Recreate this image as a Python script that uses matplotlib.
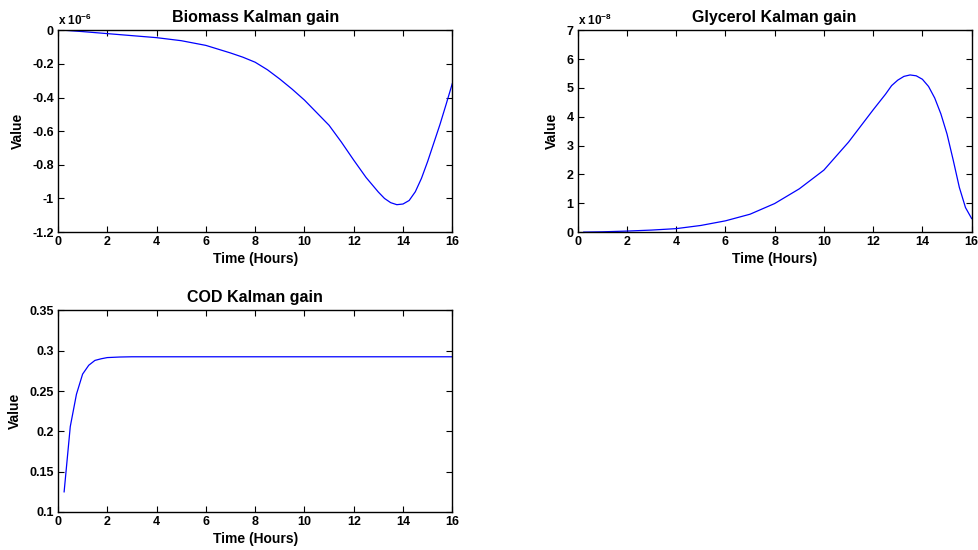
import matplotlib
matplotlib.use("Agg")
from matplotlib import pyplot as plt

plt.rcParams["font.family"] = ["Liberation Sans", "DejaVu Sans"]
plt.rcParams["font.weight"] = "bold"
plt.rcParams["axes.unicode_minus"] = False
plt.rcParams["mathtext.fontset"] = "custom"
plt.rcParams["mathtext.rm"] = "Liberation Sans:bold"
plt.rcParams["mathtext.bf"] = "Liberation Sans:bold"
plt.rcParams["mathtext.default"] = "bf"

# Biomass Kalman gain (units of 1e-6)
biomass_t = [0.25, 1, 2, 3, 4, 5, 6, 7, 7.5, 8, 8.5, 9, 9.5, 10, 10.5, 11,
             11.5, 12, 12.5, 13, 13.25, 13.5, 13.75, 14, 14.25, 14.5, 14.75,
             15, 15.25, 15.5, 15.75, 16]
biomass_k = [0, -0.008, -0.02, -0.032, -0.044, -0.062, -0.09, -0.135, -0.16,
             -0.19, -0.235, -0.29, -0.35, -0.415, -0.49, -0.565, -0.665,
             -0.772, -0.875, -0.962, -1.0, -1.025, -1.037, -1.033, -1.012,
             -0.96, -0.88, -0.78, -0.67, -0.56, -0.44, -0.317]

# Glycerol Kalman gain (units of 1e-8)
glycerol_t = [0.25, 1, 2, 3, 4, 5, 6, 7, 8, 9, 10, 11, 12, 12.5, 12.75, 13,
              13.25, 13.5, 13.75, 14, 14.25, 14.5, 14.75, 15, 15.25, 15.5,
              15.75, 16]
glycerol_k = [0, 0.01, 0.035, 0.07, 0.12, 0.23, 0.39, 0.62, 0.99, 1.5, 2.15,
              3.12, 4.24, 4.78, 5.08, 5.27, 5.40, 5.45, 5.42, 5.3, 5.05,
              4.65, 4.1, 3.4, 2.5, 1.55, 0.85, 0.47]

# COD Kalman gain
cod_t = [0.25, 0.5, 0.75, 1.0, 1.25, 1.5, 1.75, 2.0, 2.5, 3, 16]
cod_k = [0.125, 0.206, 0.246, 0.271, 0.282, 0.288, 0.290, 0.2915, 0.2922,
         0.2925, 0.2925]

xticks = [0, 2, 4, 6, 8, 10, 12, 14, 16]


def style(ax, title, yticks, ylim, ylabels):
    ax.set_xlim(0, 16)
    ax.set_ylim(*ylim)
    ax.set_xticks(xticks)
    ax.set_xticklabels([str(v) for v in xticks])
    ax.set_yticks(yticks)
    ax.set_yticklabels(ylabels)
    ax.tick_params(direction="in", top=True, right=True, length=4,
                   width=0.8, labelsize=9, pad=3)
    for s in ax.spines.values():
        s.set_linewidth(1.0)
    ax.set_title(title, fontsize=11.5, fontweight="bold", pad=6)
    ax.set_xlabel("Time (Hours)", fontsize=10, fontweight="bold", labelpad=3)
    ax.set_ylabel("Value", fontsize=10, fontweight="bold", labelpad=5)


fig = plt.figure(figsize=(9.79, 5.5), dpi=100)
ax1 = fig.add_axes([0.0592, 0.578, 0.4028, 0.367])
ax2 = fig.add_axes([0.590, 0.578, 0.4025, 0.367])
ax3 = fig.add_axes([0.0592, 0.0691, 0.4028, 0.3665])

ax1.plot(biomass_t, biomass_k, color="blue", lw=0.9)
b_ticks = [-1.2, -1, -0.8, -0.6, -0.4, -0.2, 0]
style(ax1, "Biomass Kalman gain", b_ticks, (-1.2, 0),
      ["-1.2", "-1", "-0.8", "-0.6", "-0.4", "-0.2", "0"])
ax1.text(0.0, 1.012, r"x 10$^{-6}$", transform=ax1.transAxes, fontsize=8.5,
         fontweight="bold", ha="left", va="bottom")

ax2.plot(glycerol_t, glycerol_k, color="blue", lw=0.9)
g_ticks = [0, 1, 2, 3, 4, 5, 6, 7]
style(ax2, "Glycerol Kalman gain", g_ticks, (0, 7), [str(v) for v in g_ticks])
ax2.text(0.0, 1.012, r"x 10$^{-8}$", transform=ax2.transAxes, fontsize=8.5,
         fontweight="bold", ha="left", va="bottom")

ax3.plot(cod_t, cod_k, color="blue", lw=0.9)
c_ticks = [0.1, 0.15, 0.2, 0.25, 0.3, 0.35]
style(ax3, "COD Kalman gain", c_ticks, (0.1, 0.35),
      ["0.1", "0.15", "0.2", "0.25", "0.3", "0.35"])

fig.savefig("out.png", dpi=100)
